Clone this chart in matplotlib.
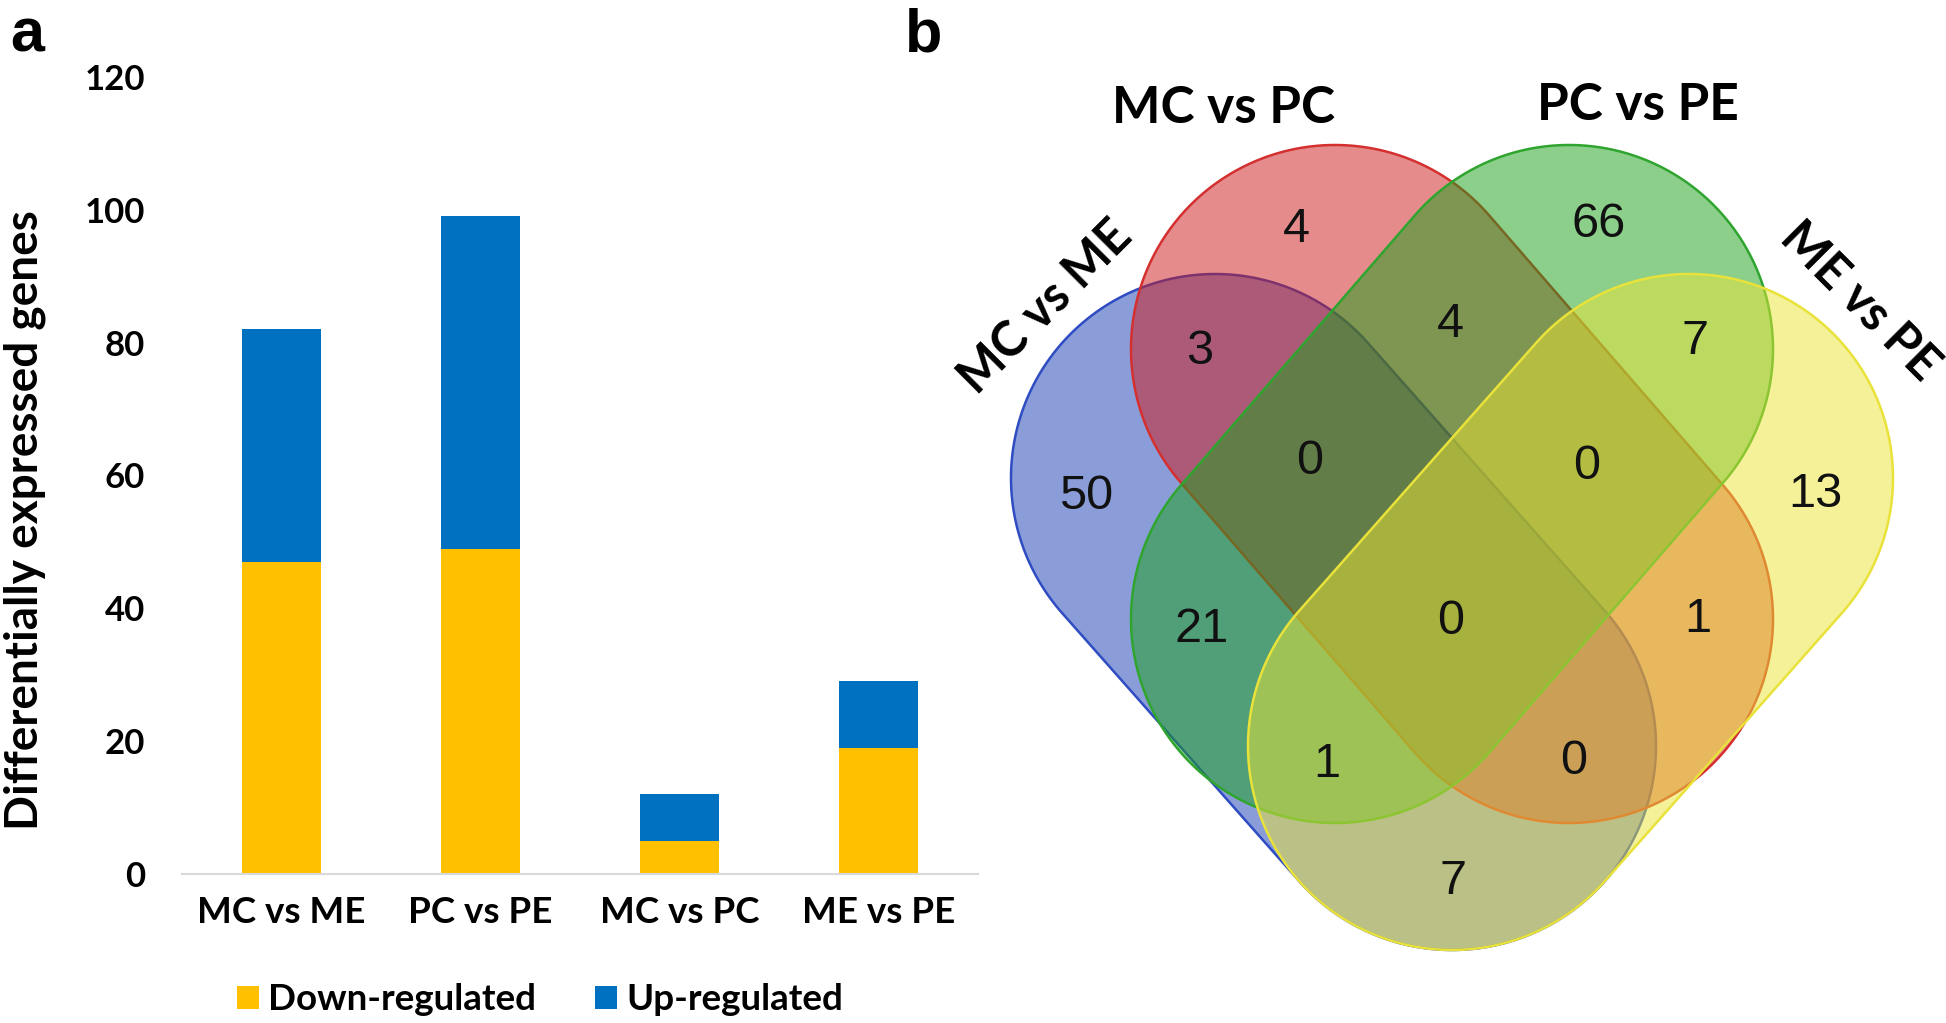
import numpy as np
import matplotlib
matplotlib.use("Agg")
import matplotlib.pyplot as plt
from matplotlib.patches import Polygon, Patch

# ---------------- data ----------------
categories = ["MC vs ME", "PC vs PE", "MC vs PC", "ME vs PE"]
down_regulated = [47, 49, 5, 19]
up_regulated = [35, 50, 7, 10]
y_ticks = [0, 20, 40, 60, 80, 100, 120]

venn_sets = ["MC vs ME", "MC vs PC", "PC vs PE", "ME vs PE"]
# B = MC vs ME, R = MC vs PC, G = PC vs PE, Y = ME vs PE
venn_regions = ["B", "R", "G", "Y", "BR", "RG", "GY", "BG", "RY", "BY",
                "BRG", "RGY", "BGY", "BRY", "BRGY"]
venn_counts = [50, 4, 66, 13, 3, 4, 7, 21, 1, 7, 0, 0, 1, 0, 0]

# ---------------- layout ----------------
W, H = 1946, 1023
fig = plt.figure(figsize=(W / 100, H / 100), dpi=100)
BOLD = ["Lato", "DejaVu Sans"]
REG = ["Liberation Sans", "DejaVu Sans"]

# ---------------- panel a ----------------
ax = fig.add_axes([182 / W, 1 - 874 / H, 796 / W, 797 / H])
x = np.arange(len(categories))
ax.bar(x, down_regulated, width=0.4, color="#FFC000", label="Down-regulated", zorder=2)
ax.bar(x, up_regulated, bottom=down_regulated, width=0.4, color="#0070C0",
       label="Up-regulated", zorder=2)
ax.set_xlim(-0.5, len(categories) - 0.5)
ax.set_ylim(0, 120)
ax.set_yticks(y_ticks)
ax.set_xticks(x)
ax.set_xticklabels(categories)
for s in ["left", "right", "top"]:
    ax.spines[s].set_visible(False)
ax.spines["bottom"].set_color("#D9D9D9")
ax.spines["bottom"].set_linewidth(1.5)
ax.tick_params(axis="y", length=0, pad=26.5)
ax.tick_params(axis="x", length=0, pad=15.5)
for lab in ax.get_yticklabels():
    lab.set_fontfamily(BOLD); lab.set_fontweight("bold"); lab.set_fontsize(25)
for lab in ax.get_xticklabels():
    lab.set_fontfamily(BOLD); lab.set_fontweight("bold"); lab.set_fontsize(26.5)

fig.text(25 / W, 1 - 520 / H, "Differentially expressed genes", rotation=90,
         ha="center", va="center", fontsize=33, fontweight="bold", family=BOLD)

handles = [Patch(facecolor="#FFC000"), Patch(facecolor="#0070C0")]
fig.legend(handles, ["Down-regulated", "Up-regulated"], loc="center",
           bbox_to_anchor=(540 / W, 1 - 1000 / H), ncol=2, frameon=False,
           handlelength=0.6, handleheight=0.6, handletextpad=0.25, columnspacing=1.6,
           borderpad=0, borderaxespad=0,
           prop={"family": BOLD, "weight": "bold", "size": 26.5})

fig.text(10 / W, 1 - 52 / H, "a", ha="left", va="baseline", fontsize=44,
         fontweight="bold", family=REG)
fig.text(905 / W, 1 - 52 / H, "b", ha="left", va="baseline", fontsize=44,
         fontweight="bold", family=REG)

# ---------------- panel b (Venn) ----------------
vx = fig.add_axes([0, 0, 1, 1])
vx.set_xlim(0, W)
vx.set_ylim(H, 0)
vx.axis("off")
vx.patch.set_visible(False)


def capsule(c1, c2, r, n=140):
    c1, c2 = np.asarray(c1, float), np.asarray(c2, float)
    d = c2 - c1
    ang = np.arctan2(d[1], d[0])
    t1 = np.linspace(ang - np.pi / 2, ang + np.pi / 2, n)
    t2 = np.linspace(ang + np.pi / 2, ang + 3 * np.pi / 2, n)
    return np.vstack([c2 + r * np.c_[np.cos(t1), np.sin(t1)],
                      c1 + r * np.c_[np.cos(t2), np.sin(t2)]])


RAD = 204
shapes = [
    ((1215, 478), (1452, 746), "#193DB3", "#2F4CC2"),   # MC vs ME
    ((1335, 349), (1569, 619), "#CD1919", "#D43030"),   # MC vs PC
    ((1569, 349), (1335, 619), "#19A119", "#2FA52F"),   # PC vs PE
    ((1689, 478), (1452, 746), "#EBE535", "#E8E23A"),   # ME vs PE
]
for c1, c2, fc, ec in shapes:
    poly = Polygon(capsule(c1, c2, RAD), closed=True,
                   facecolor=matplotlib.colors.to_rgba(fc, 0.5),
                   edgecolor=ec, linewidth=1.8)
    vx.add_patch(poly)

region_pos = {
    "B": (1086, 491.7), "R": (1296.7, 225), "G": (1598.3, 220),
    "Y": (1815, 490), "BR": (1200, 346.7), "RG": (1450.5, 320),
    "GY": (1695, 336.7), "BG": (1201.7, 625), "RY": (1698.3, 615),
    "BY": (1453, 876.7), "BRG": (1310, 456.7), "RGY": (1586.7, 461.7),
    "BGY": (1326.7, 759.3), "BRY": (1573.3, 756.7), "BRGY": (1450.5, 617),
}
NUM_SIZE = 35
for reg, cnt in zip(venn_regions, venn_counts):
    px, py = region_pos[reg]
    # digit centre -> baseline offset (digit height ~0.716 em)
    vx.text(px, py + 0.358 * NUM_SIZE * 100 / 72, str(cnt), ha="center",
            va="baseline", fontsize=NUM_SIZE, family=REG, color="#111111")

label_specs = [((1045.5, 307), 45, 35), ((1224, 123.3), 0, 37),
               ((1638, 120), 0, 37), ((1860, 301), -45, 35)]
for name, ((px, py), rot, fs) in zip(venn_sets, label_specs):
    if rot == 0:
        vx.text(px, py, name, ha="center", va="baseline", fontsize=fs,
                fontweight="bold", family=BOLD)
    else:
        vx.text(px, py, name, ha="center", va="center", rotation=rot,
                rotation_mode="anchor", fontsize=fs, fontweight="bold", family=BOLD)

fig.savefig("out.png", dpi=100)
